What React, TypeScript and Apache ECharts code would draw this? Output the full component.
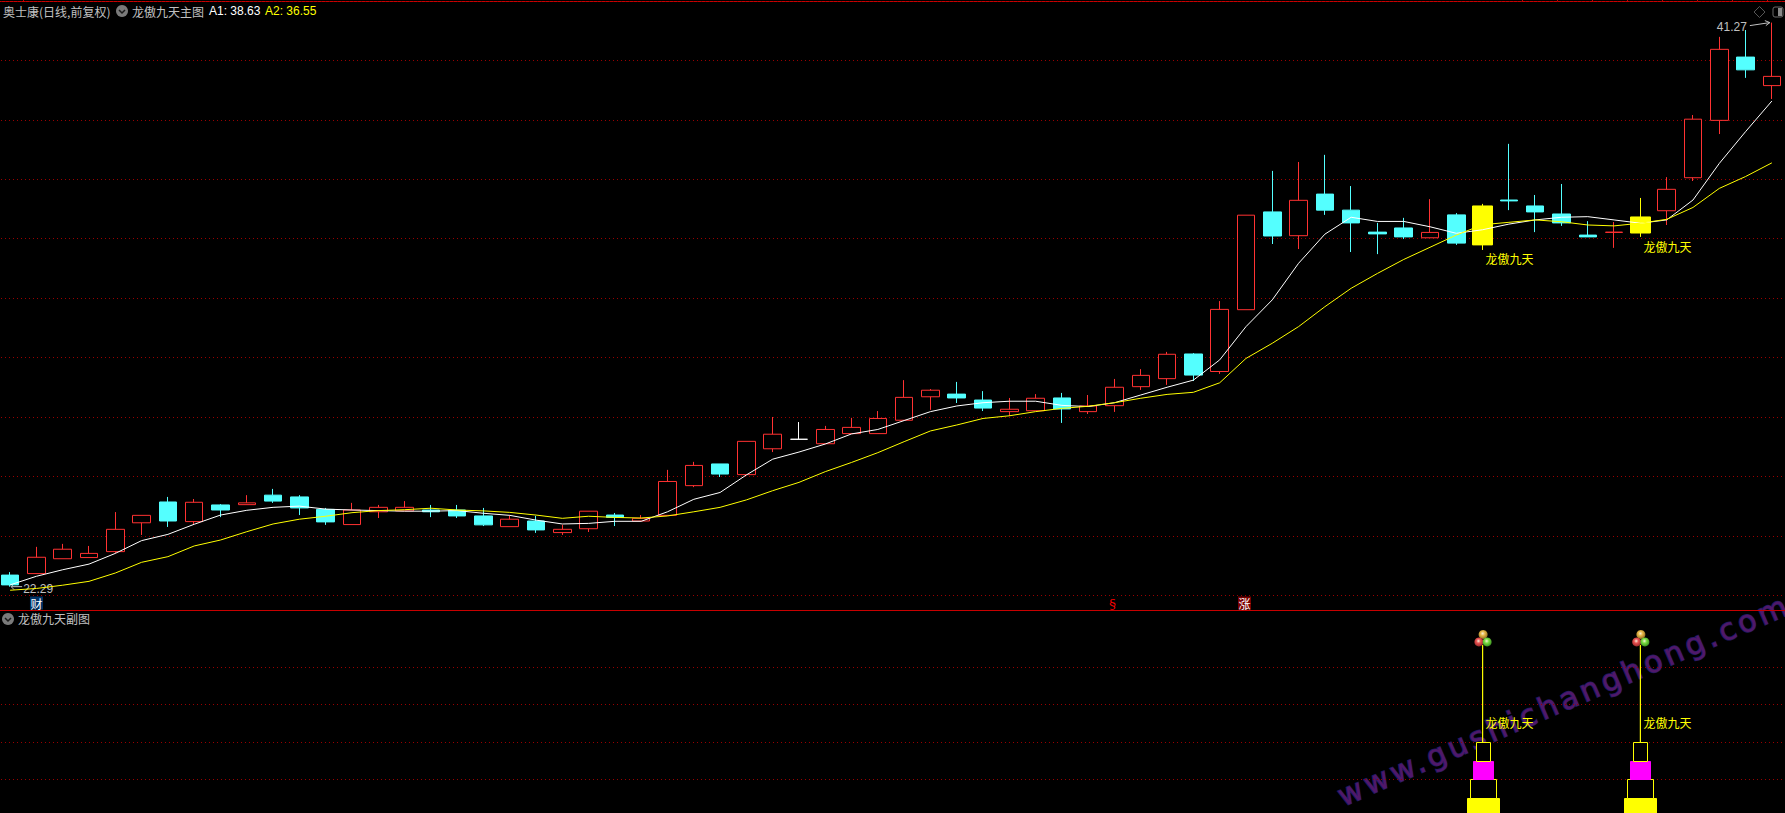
import React, { useEffect, useRef } from "react";
import * as echarts from "echarts";

// Daily bars
const opens = [22.68,22.73,23.23,23.27,23.47,24.44,25.14,24.48,25.04,25.05,25.37,25.31,24.89,24.38,24.81,24.84,24.87,24.87,24.67,24.31,24.50,24.11,24.24,24.70,24.50,24.69,25.69,26.42,26.06,26.93,27.25,27.10,27.44,27.44,27.89,28.68,28.77,28.57,28.18,28.21,28.64,28.18,28.38,29.02,29.29,30.12,29.53,31.61,34.90,34.10,35.50,34.96,34.22,34.36,34.03,34.80,35.10,35.30,35.10,34.83,34.12,34.21,34.73,34.94,36.05,37.98,40.11,39.15];
const closes = [22.35,23.28,23.55,23.41,24.22,24.69,24.50,25.13,24.87,25.11,25.17,24.94,24.47,24.87,24.96,24.96,24.81,24.67,24.37,24.56,24.20,24.22,24.83,24.62,24.59,25.83,26.37,26.08,27.18,27.42,27.25,27.58,27.65,27.95,28.66,28.90,28.64,28.30,28.26,28.63,28.27,28.37,29.00,29.40,30.11,29.41,31.62,34.79,34.09,35.29,34.96,34.53,34.16,34.06,34.21,33.85,33.79,35.27,34.90,34.53,34.06,34.22,34.19,35.66,38.02,40.37,39.68,39.46];
const lows = [22.29,22.73,23.23,23.27,23.41,24.03,24.30,24.39,24.63,25.05,25.11,24.70,24.37,24.38,24.60,24.84,24.63,24.60,24.33,24.31,24.10,24.03,24.13,24.33,24.50,24.67,25.64,25.98,26.06,26.82,27.25,27.10,27.44,27.44,27.89,28.24,28.47,28.20,28.03,28.21,27.80,28.10,28.17,28.91,29.08,29.21,29.45,31.61,33.82,33.65,34.80,33.55,33.48,33.99,34.03,33.79,33.62,34.96,34.22,34.43,34.06,33.69,34.06,34.46,35.94,37.52,39.41,38.70];
const highs = [22.78,23.63,23.73,23.66,24.80,24.69,25.31,25.24,25.07,25.37,25.58,25.37,24.94,25.11,25.04,25.17,25.04,25.04,24.94,24.69,24.67,24.37,24.83,24.77,24.70,26.22,26.49,26.42,27.18,28.00,27.83,27.70,27.97,28.20,29.24,28.94,29.18,28.87,28.64,28.77,28.81,28.74,29.28,29.61,30.19,30.15,31.90,34.79,36.28,36.58,36.82,35.77,34.53,34.70,35.33,34.86,35.17,37.19,35.47,35.84,34.59,34.56,35.37,36.07,38.16,40.79,41.02,41.27];
const a1Values = [22.35,22.64,22.86,23.05,23.41,23.84,24.05,24.39,24.70,24.86,24.96,25.00,24.90,24.87,24.85,24.83,24.83,24.85,24.76,24.69,24.53,24.40,24.42,24.49,24.49,24.81,25.23,25.46,26.05,26.58,26.82,27.09,27.43,27.58,27.88,28.18,28.37,28.48,28.53,28.53,28.39,28.35,28.48,28.74,29.00,29.24,29.92,31.04,31.94,33.17,34.15,34.72,34.58,34.58,34.40,34.18,34.30,34.49,34.63,34.72,34.74,34.63,34.52,34.63,35.30,36.53,37.60,38.63];
const a2Values = [22.17,22.23,22.34,22.47,22.75,23.11,23.30,23.66,23.86,24.14,24.40,24.56,24.66,24.78,24.85,24.88,24.93,24.87,24.84,24.79,24.70,24.59,24.66,24.62,24.60,24.67,24.81,24.96,25.21,25.52,25.80,26.16,26.47,26.80,27.17,27.53,27.73,27.95,28.04,28.18,28.29,28.36,28.48,28.63,28.76,28.83,29.15,29.97,30.48,31.04,31.71,32.33,32.83,33.30,33.71,34.12,34.47,34.55,34.63,34.57,34.46,34.43,34.52,34.65,35.05,35.69,36.09,36.55];
const categories = opens.map((_, i) => String(i));

const yellowBarIndexes = [56, 62];
const whiteBarIndexes = [30];
const mainLabelPrices = [33.34, 33.74];
const lowExtreme = 22.29;
const highExtreme = 41.27;
const badgeIndexes = [1, 42, 47];
const badgeTexts = ["财", "§", "涨"];
const badgeLevel = 21.74;

// Sub chart, in units of its grid lines
const signalIndexes = [56, 62];
const stickLow = 1;
const stickHigh = 3.6;
const subLabelLevel = 1.53;
const boxLows = [-1, -0.5, 0, 0.5];
const boxHighs = [-0.5, 0, 0.5, 1];

const title = "奥士康(日线,前复权)";
const mainName = "龙傲九天主图";
const subName = "龙傲九天副图";
const signalName = "龙傲九天";
const a1Text = "A1: 38.63";
const a2Text = "A2: 36.55";
const watermark = "www.gushichanghong.com";

const RED = "#ff3232";
const CYAN = "#54ffff";
const YELLOW = "#ffff00";
const GRID = "#9a0000";
const PANEL = "#c80000";
const GREY = "#c0c0c0";
const FONT = '"Noto Sans CJK SC", sans-serif';
const NUM = '"Liberation Sans", sans-serif';

const boxStyles = [
  { width: 32, fill: YELLOW, stroke: YELLOW },
  { width: 26, fill: "#000", stroke: YELLOW },
  { width: 20, fill: "#ff00ff", stroke: "#ff00ff" },
  { width: 14, fill: "#000", stroke: YELLOW },
];

function ball(cx: number, cy: number, mid: string, dark: string) {
  return {
    type: "circle",
    shape: { cx, cy, r: 4.5 },
    style: {
      fill: new echarts.graphic.RadialGradient(0.45, 0.4, 0.7, [
        { offset: 0, color: "#f6f0d8" },
        { offset: 0.35, color: mid },
        { offset: 1, color: dark },
      ]),
    },
  };
}

function roundIcon(cx: number, cy: number) {
  return {
    type: "group",
    children: [
      { type: "circle", shape: { cx, cy, r: 6 }, style: { fill: "#7a7a7a" } },
      {
        type: "polyline",
        shape: { points: [[cx - 3, cy - 1], [cx, cy + 2], [cx + 3, cy - 1]] },
        style: { fill: "none", stroke: "#1a1a1a", lineWidth: 1.5 },
      },
    ],
  };
}

function headerText(x: number, y: number, text: string, fill: string, font = FONT) {
  return {
    type: "text",
    x,
    y,
    style: { text, fill, font: `12px ${font}`, align: "left", verticalAlign: "middle" },
  };
}

export default function App() {
  const ref = useRef<HTMLDivElement>(null);
  useEffect(() => {
    document.body.style.margin = "0";
    document.body.style.background = "#000";
    const chart = echarts.init(ref.current!, undefined, { renderer: "svg" });

    const isYellow = (i: number) => yellowBarIndexes.includes(i);
    const ohlc = (i: number) => [opens[i], closes[i], lows[i], highs[i]];
    const normalBars = categories.map((_, i) => {
      if (isYellow(i)) return "-";
      if (whiteBarIndexes.includes(i)) {
        return {
          value: ohlc(i),
          itemStyle: { borderColor: "#fff", borderColor0: "#fff", borderColorDoji: "#fff" },
        };
      }
      return ohlc(i);
    });
    const yellowBars = categories.map((_, i) => (isYellow(i) ? ohlc(i) : "-"));

    const axisCommon = {
      type: "value" as const,
      axisLine: { show: false },
      axisTick: { show: false },
      axisLabel: { show: false },
      scale: false,
    };

    const topTicks = [23, ...Array.from({ length: 8 }, (_, k) => 1522 + 35 * k)];

    const option: any = {
      animation: false,
      backgroundColor: "#000",
      grid: [
        { left: -3, right: 0, top: 0.9, height: 594.4, outerBoundsMode: "none" },
        { left: -3, right: 0, top: 667.3, height: 112, outerBoundsMode: "none" },
      ],
      xAxis: [
        { type: "category", data: categories, gridIndex: 0, show: false },
        { type: "category", data: categories, gridIndex: 1, show: false },
      ],
      yAxis: [
        {
          ...axisCommon,
          gridIndex: 0,
          min: 22,
          max: 42,
          interval: 2,
          splitLine: { show: true, lineStyle: { color: GRID, type: [1, 3], width: 1 } },
        },
        {
          ...axisCommon,
          gridIndex: 1,
          min: 0,
          max: 3,
          interval: 1,
          splitLine: { show: true, lineStyle: { color: GRID, type: [1, 3], width: 1 } },
        },
      ],
      series: [
        {
          type: "candlestick",
          name: "K",
          data: normalBars,
          barWidth: 18,
          clip: false,
          itemStyle: { color: "#000", color0: CYAN, borderColor: RED, borderColor0: CYAN, borderWidth: 1 },
        },
        {
          type: "candlestick",
          name: "K2",
          data: yellowBars,
          barWidth: 20,
          clip: false,
          itemStyle: { color: YELLOW, color0: YELLOW, borderColor: YELLOW, borderColor0: YELLOW, borderWidth: 1 },
        },
        {
          type: "line",
          name: "A1",
          data: a1Values,
          symbol: "none",
          clip: false,
          lineStyle: { color: "#ffffff", width: 1 },
        },
        {
          type: "line",
          name: "A2",
          data: a2Values,
          symbol: "none",
          clip: false,
          lineStyle: { color: YELLOW, width: 1 },
        },
        {
          type: "custom",
          name: "signal-main",
          coordinateSystem: "cartesian2d",
          data: yellowBarIndexes.map((idx, i) => [idx, mainLabelPrices[i]]),
          encode: { x: 0, y: 1 },
          renderItem: (_: any, api: any) => {
            const p = api.coord([api.value(0), api.value(1)]);
            return {
              type: "text",
              x: p[0] + 3,
              y: p[1],
              style: { text: signalName, fill: YELLOW, font: `12px ${FONT}`, align: "left", verticalAlign: "middle" },
            };
          },
        },
        {
          type: "custom",
          name: "extremes",
          coordinateSystem: "cartesian2d",
          data: [[0, lowExtreme], [categories.length - 1, highExtreme]],
          encode: { x: 0, y: 1 },
          renderItem: (params: any, api: any) => {
            const p = api.coord([api.value(0), api.value(1)]);
            const [x, y] = p;
            if (params.dataIndex === 0) {
              return {
                type: "group",
                children: [
                  { type: "line", shape: { x1: x + 1, y1: y, x2: x + 12, y2: y }, style: { stroke: GREY, lineWidth: 1 } },
                  { type: "polyline", shape: { points: [[x + 4, y - 3], [x + 1, y], [x + 4, y + 3]] }, style: { fill: "none", stroke: GREY, lineWidth: 1 } },
                  { type: "text", x: x + 13, y: y + 2, style: { text: api.value(1).toFixed(2), fill: GREY, font: `12px ${NUM}`, align: "left", verticalAlign: "middle" } },
                ],
              };
            }
            return {
              type: "group",
              children: [
                { type: "line", shape: { x1: x - 22, y1: y + 3, x2: x - 2, y2: y }, style: { stroke: GREY, lineWidth: 1 } },
                { type: "polyline", shape: { points: [[x - 7, y - 2], [x - 2, y], [x - 6, y + 3]] }, style: { fill: "none", stroke: GREY, lineWidth: 1 } },
                { type: "text", x: x - 25, y: y + 4, style: { text: api.value(1).toFixed(2), fill: GREY, font: `12px ${NUM}`, align: "right", verticalAlign: "middle" } },
              ],
            };
          },
        },
        {
          type: "custom",
          name: "badges",
          coordinateSystem: "cartesian2d",
          data: badgeIndexes.map((idx) => [idx, badgeLevel]),
          encode: { x: 0, y: 1 },
          renderItem: (params: any, api: any) => {
            const [x, y] = api.coord([api.value(0), api.value(1)]);
            const text = badgeTexts[params.dataIndex];
            const bg = ["#003366", "transparent", "#7a0000"][params.dataIndex];
            const fg = ["#ffffff", "#ff0000", "#ffffff"][params.dataIndex];
            const dx = [0, -2, -1.5][params.dataIndex];
            return {
              type: "group",
              children: [
                { type: "rect", shape: { x: x + dx - 6.5, y: y - 6.5, width: 13, height: 13 }, style: { fill: bg } },
                { type: "text", x: x + dx, y, style: { text, fill: fg, font: `12px ${FONT}`, align: "center", verticalAlign: "middle" } },
              ],
            };
          },
        },
        // Sub chart
        {
          type: "custom",
          name: "stick",
          coordinateSystem: "cartesian2d",
          xAxisIndex: 1,
          yAxisIndex: 1,
          data: signalIndexes.map((idx) => [idx, stickLow, stickHigh]),
          encode: { x: 0, y: [1, 2] },
          renderItem: (_: any, api: any) => {
            const a = api.coord([api.value(0), api.value(1)]);
            const b = api.coord([api.value(0), api.value(2)]);
            const x = b[0];
            const y = b[1];
            return {
              type: "group",
              children: [
                { type: "line", shape: { x1: a[0], y1: a[1], x2: b[0], y2: b[1] }, style: { stroke: YELLOW, lineWidth: 1.2 } },
                ball(x + 0.5, y - 10.5, "#e8b848", "#7a5c18"),
                ball(x - 3.7, y - 3, "#e85050", "#842020"),
                ball(x + 4.5, y - 3, "#78dc40", "#2a7a18"),
              ],
            };
          },
        },
        ...boxLows.map((low, layer) => ({
          type: "custom",
          name: `box-${layer}`,
          coordinateSystem: "cartesian2d",
          xAxisIndex: 1,
          yAxisIndex: 1,
          data: signalIndexes.map((idx) => [idx, low, boxHighs[layer]]),
          encode: { x: 0, y: [1, 2] },
          renderItem: (_: any, api: any) => {
            const a = api.coord([api.value(0), api.value(1)]);
            const b = api.coord([api.value(0), api.value(2)]);
            const st = boxStyles[layer];
            return {
              type: "rect",
              shape: { x: Math.round(a[0] - st.width / 2) + 0.5, y: Math.round(b[1]) + 0.5, width: st.width, height: Math.round(a[1]) - Math.round(b[1]) },
              style: { fill: st.fill, stroke: st.stroke, lineWidth: 1 },
            };
          },
        })),
        {
          type: "custom",
          name: "signal-sub",
          coordinateSystem: "cartesian2d",
          xAxisIndex: 1,
          yAxisIndex: 1,
          data: signalIndexes.map((idx) => [idx, subLabelLevel]),
          encode: { x: 0, y: 1 },
          renderItem: (_: any, api: any) => {
            const p = api.coord([api.value(0), api.value(1)]);
            return {
              type: "text",
              x: p[0] + 3,
              y: p[1],
              style: { text: signalName, fill: YELLOW, font: `12px ${FONT}`, align: "left", verticalAlign: "middle" },
            };
          },
        },
      ],
      graphic: [
        {
          type: "text",
          x: 1339,
          y: 797,
          rotation: (23.3 * Math.PI) / 180,
          silent: true,
          z: 0,
          style: {
            text: watermark,
            fill: "#50186a",
            stroke: "#241a60",
            lineWidth: 1.5,
            strokeFirst: true,
            font: `30px "DejaVu Sans", sans-serif`,
            align: "left",
            verticalAlign: "middle",
          },
        },
        { type: "line", shape: { x1: 0, y1: 1.5, x2: 1785, y2: 1.5 }, style: { stroke: PANEL, lineWidth: 1 } },
        ...topTicks.map((x) => ({
          type: "line",
          shape: { x1: x + 0.5, y1: 0, x2: x + 0.5, y2: 1 },
          style: { stroke: PANEL, lineWidth: 1 },
        })),
        { type: "line", shape: { x1: 0, y1: 610.5, x2: 1785, y2: 610.5 }, style: { stroke: PANEL, lineWidth: 1 } },
        headerText(3, 11, title, GREY),
        roundIcon(122, 11),
        headerText(132, 11, mainName, GREY),
        headerText(209, 11, a1Text, "#ffffff", NUM),
        headerText(265, 11, a2Text, YELLOW, NUM),
        roundIcon(8, 619),
        headerText(18, 618, subName, GREY),
        {
          type: "polygon",
          shape: { points: [[1759.5, 6.5], [1765, 12], [1759.5, 17.5], [1754, 12]] },
          style: { fill: "none", stroke: "#555555", lineWidth: 1 },
        },
        {
          type: "rect",
          shape: { x: 1773, y: 7, width: 10, height: 10, r: 2 },
          style: { fill: "#000", stroke: "#6a6a6a", lineWidth: 1 },
        },
        {
          type: "rect",
          shape: { x: 1778, y: 8, width: 4, height: 8 },
          style: { fill: "#8a8a8a" },
        },
      ],
    };
    chart.setOption(option);
    // zrender's text has no letter spacing of its own; the watermark is widely spaced
    ref.current!.querySelectorAll("text").forEach((t) => {
      if (t.textContent === watermark) t.setAttribute("letter-spacing", "4");
    });
    return () => chart.dispose();
  }, []);
  return (
    <div
      ref={ref}
      style={{ position: "fixed", left: 0, top: 0, width: 1785, height: 813, background: "#000" }}
    />
  );
}
